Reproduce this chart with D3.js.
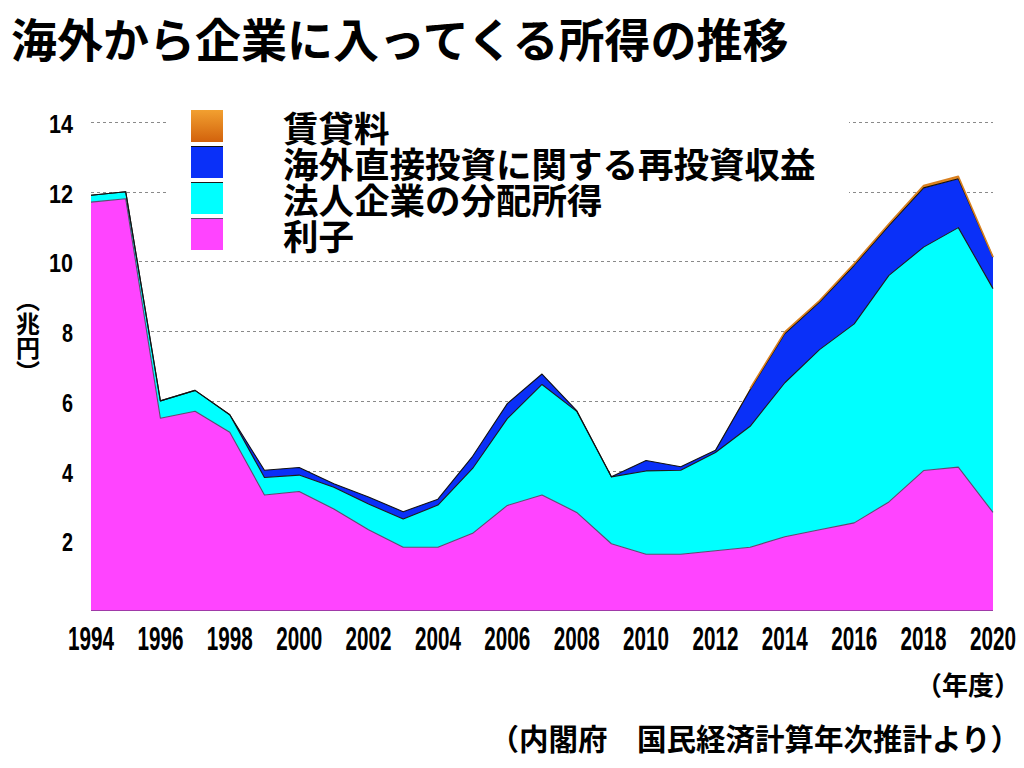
<!DOCTYPE html>
<html><head><meta charset="utf-8">
<script src="https://cdn.jsdelivr.net/npm/d3@7"></script>
<style>
html,body{margin:0;padding:0;background:#fff;}
svg{display:block;}
</style></head>
<body>
<svg id="chart" width="1024" height="768"></svg>
<script>
const years = [1994,1995,1996,1997,1998,1999,2000,2001,2002,2003,2004,2005,2006,2007,2008,2009,2010,2011,2012,2013,2014,2015,2016,2017,2018,2019,2020];
// 利子
const interest = [11.7,11.8,5.5,5.7,5.1,3.3,3.4,2.9,2.3,1.8,1.8,2.2,3.0,3.3,2.8,1.9,1.6,1.6,1.7,1.8,2.1,2.3,2.5,3.1,4.0,4.1,2.8];
// 法人企業の分配所得
const dividends = [0.2,0.2,0.5,0.6,0.5,0.5,0.47,0.62,0.74,0.81,1.21,1.86,2.49,3.17,2.9,1.92,2.39,2.41,2.82,3.47,4.42,5.17,5.71,6.5,6.41,6.87,6.42];
// 海外直接投資に関する再投資収益
const reinvested = [0,0,0,0,0,0.21,0.22,0.1,0.2,0.21,0.17,0.35,0.43,0.3,0.02,0,0.3,0.1,0.06,1.05,1.41,1.36,1.68,1.43,1.7,1.4,0.9];
// 賃貸料
const rent = [0,0,0,0,0,0,0,0,0,0,0,0,0,0,0,0,0,0,0.01,0.04,0.05,0.05,0.05,0.05,0.07,0.07,0.01];

const yTicks = [2,4,6,8,10,12,14];
const xTicks = [1994,1996,1998,2000,2002,2004,2006,2008,2010,2012,2014,2016,2018,2020];

const seriesKeys = ["interest","dividends","reinvested","rent"];
const fills = {interest:"#ff44ff", dividends:"#00ffff", reinvested:"#0a30f8", rent:"#e88a20"};
const strokes = {interest:"#5e4a70", dividends:"#1a1a1a", reinvested:"#111111", rent:"#d88020"};

const table = years.map((y,i)=>({year:y, interest:interest[i], dividends:dividends[i], reinvested:reinvested[i], rent:rent[i]}));

const svg = d3.select("#chart");
const x = d3.scaleLinear().domain([1994,2020]).range([91,993]);
const y = d3.scaleLinear().domain([0,14]).range([610,122]);

const CJK = "'Noto Sans CJK JP','Noto Sans CJK SC',sans-serif";
const NUM = "'Liberation Sans Narrow','Liberation Sans',Arial,sans-serif";

// title
svg.append("text").attr("x",11).attr("y",37).attr("dominant-baseline","central")
  .attr("font-family",CJK).attr("font-weight",700).attr("font-size",46).attr("fill","#000")
  .text("海外から企業に入ってくる所得の推移");

// gridlines
svg.append("g").selectAll("line").data(yTicks).join("line")
  .attr("x1",x(1994)).attr("x2",x(2020))
  .attr("y1",d=>Math.round(y(d))+0.5).attr("y2",d=>Math.round(y(d))+0.5)
  .attr("stroke","#8a8a8a").attr("stroke-width",1).attr("stroke-dasharray","3,3");

// stacked areas
const stack = d3.stack().keys(seriesKeys);
const layers = stack(table);
const area = d3.area().x(d=>x(d.data.year)).y0(d=>y(d[0])).y1(d=>y(d[1]));

const gA = svg.append("g");
layers.forEach(layer=>{
  gA.append("path").attr("d",area(layer)).attr("fill",fills[layer.key]).attr("stroke","none");
});
layers.forEach(layer=>{
  const ln = d3.line().x(d=>x(d.data.year)).y(d=>y(d[1]));
  if(layer.key==="rent") ln.defined(d=>d.data.year>=2013);
  gA.append("path").attr("d",ln(layer)).attr("fill","none")
    .attr("stroke",strokes[layer.key]).attr("stroke-width",layer.key==="rent"?1.6:1.1)
    .attr("stroke-linejoin","round");
});
// bottom edge
svg.append("line").attr("x1",x(1994)).attr("x2",x(2020)).attr("y1",y(0)+0.5).attr("y2",y(0)+0.5)
  .attr("stroke","#a03aa8").attr("stroke-width",1);

// legend with white background
svg.append("rect").attr("x",166).attr("y",104).attr("width",683).attr("height",150).attr("fill","#fff");
const defs = svg.append("defs");
const grad = defs.append("linearGradient").attr("id","og").attr("x1",0).attr("x2",0).attr("y1",0).attr("y2",1);
grad.append("stop").attr("offset","0%").attr("stop-color","#f2a030");
grad.append("stop").attr("offset","100%").attr("stop-color","#d2620c");
const legendOrder = ["rent","reinvested","dividends","interest"];
const legendText = {rent:"賃貸料", reinvested:"海外直接投資に関する再投資収益", dividends:"法人企業の分配所得", interest:"利子"};
const lg = svg.append("g");
legendOrder.forEach((k,i)=>{
  const cy = 126 + i*36;
  lg.append("rect").attr("x",191).attr("y",cy-16).attr("width",32).attr("height",32)
    .attr("fill", k==="rent" ? "url(#og)" : fills[k]);
  if(k!=="rent"){
    lg.append("line").attr("x1",191).attr("x2",223).attr("y1",cy-15.5).attr("y2",cy-15.5)
      .attr("stroke",strokes[k]).attr("stroke-width",1);
  }
  lg.append("text").attr("x",283).attr("y",cy).attr("dominant-baseline","central")
    .attr("font-family",CJK).attr("font-weight",700).attr("font-size",35.5).attr("fill","#000")
    .text(legendText[k]);
});

// y tick labels
svg.append("g").selectAll("text").data(yTicks).join("text")
  .attr("x",73).attr("y",d=>y(d)+2).attr("text-anchor","end").attr("dominant-baseline","central")
  .attr("font-family",NUM).attr("font-weight",700).attr("font-size",25).attr("fill","#000")
  .attr("textLength",d=>String(d).length===1?11:24).attr("lengthAdjust","spacingAndGlyphs")
  .text(d=>d);

// x tick labels
svg.append("g").selectAll("text").data(xTicks).join("text")
  .attr("x",d=>x(d)).attr("y",638).attr("text-anchor","middle").attr("dominant-baseline","central")
  .attr("font-family",NUM).attr("font-weight",700).attr("font-size",34).attr("fill","#000")
  .attr("textLength",46).attr("lengthAdjust","spacingAndGlyphs")
  .text(d=>d);

// y axis unit (vertical)
svg.append("text").attr("x",28).attr("y",336).attr("text-anchor","middle")
  .style("writing-mode","vertical-rl")
  .attr("font-family",CJK).attr("font-weight",700).attr("font-size",24).attr("fill","#000")
  .text("（兆円）");

// x unit
svg.append("text").attr("x",916).attr("y",683).attr("dominant-baseline","central")
  .attr("font-family",CJK).attr("font-weight",700).attr("font-size",26).attr("fill","#000")
  .text("（年度）");

// source
svg.append("text").attr("x",1020).attr("y",737).attr("text-anchor","end").attr("dominant-baseline","central")
  .attr("font-family",CJK).attr("font-weight",700).attr("font-size",29.5).attr("fill","#000")
  .text("（内閣府　国民経済計算年次推計より）");
</script>
</body></html>
